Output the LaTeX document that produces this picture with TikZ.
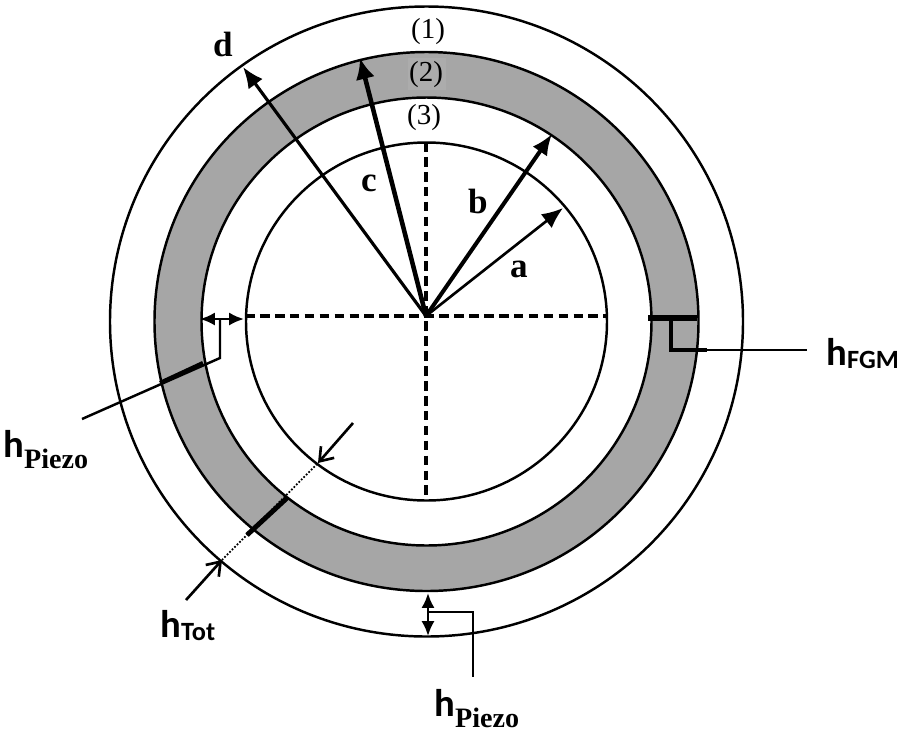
\documentclass[tikz,border=0pt]{standalone}
\usepackage{fontspec}
\setmainfont{Liberation Serif}
\setsansfont{Carlito}
\usepackage{tikz}
\usetikzlibrary{arrows.meta}
\definecolor{ringgray}{RGB}{166,166,166}
\definecolor{patchgray}{RGB}{172,172,172}
\newcommand{\hsym}{{\fontsize{22}{22}\selectfont\sffamily\bfseries h}}
\newcommand{\subsf}[1]{{\fontsize{15}{15}\selectfont\sffamily\bfseries #1}}
\newcommand{\subrm}[1]{{\fontsize{16}{16}\selectfont\rmfamily\bfseries #1}}
\newcommand{\ringline}[3]{\draw[ringln] (#1) ellipse [x radius=#2, y radius=#3];}
\tikzset{
  ringln/.style={line width=1.4pt},
  guideln/.style={dash pattern=on 5.5pt off 3pt, line width=2pt},
  radius a/.style={line width=1.5pt, -{Latex[length=12pt,width=10pt]}},
  radius b/.style={line width=2.3pt, -{Latex[length=12pt,width=10pt]}},
  radius c/.style={line width=2.6pt, -{Latex[length=12pt,width=11pt]}},
  radius d/.style={line width=1.8pt, -{Latex[length=12pt,width=10pt]}},
  gapdim/.style={line width=1.4pt, {Latex[length=8.5pt,width=7.5pt]}-{Latex[length=8.5pt,width=7.5pt]}},
  leader/.style={line width=1.4pt},
  openarr/.style={line width=1.5pt, -{Straight Barb[length=7pt,width=10pt]}},
  zonelbl/.style={font=\fontsize{16.5}{16.5}\selectfont, inner sep=0pt},
  radlbl/.style={font=\fontsize{20}{20}\selectfont\bfseries, inner sep=0pt},
  hlbl/.style={anchor=base west, inner sep=0pt}
}
\begin{document}
\begin{tikzpicture}[x=0.02cm, y=-0.02cm]
  \useasboundingbox (0,0) rectangle (900,735);
  % centres
  \coordinate (rc) at (426.5,321.5);
  \coordinate (ctr) at (426,316);
  % grey ring
  \fill[ringgray, even odd rule] (rc) ellipse [x radius=272, y radius=269.5] (rc) ellipse [x radius=225, y radius=224];
  \fill[patchgray] (408,58) rectangle (446,90);
  % circles
  \ringline{rc}{316.5}{315}
  \ringline{rc}{272}{269.5}
  \ringline{rc}{225}{224}
  \ringline{rc}{180.5}{179}
  % dashed cross
  \coordinate (gl) at (245,316);
  \coordinate (gr) at (606,316);
  \coordinate (gt) at (426,142);
  \coordinate (gb) at (426,499);
  \draw[guideln] (gl) -- (gr);
  \draw[guideln] (gt) -- (gb);
  % radii
  \coordinate (ra) at (563,208);
  \coordinate (rb) at (552,134);
  \coordinate (rcc) at (360,58);
  \coordinate (rd) at (243,67);
  \draw[radius a] (ctr) -- (ra);
  \draw[radius b] (ctr) -- (rb);
  \draw[radius c] (ctr) -- (rcc);
  \draw[radius d] (ctr) -- (rd);
  \node[radlbl] (la) at (519,269) {a};
  \node[radlbl] (lb) at (478,201) {b};
  \node[radlbl] (lc) at (369,183) {c};
  \node[radlbl] (ld) at (223,44) {d};
  % zones
  \node[zonelbl] (z1) at (428,32) {(1)};
  \node[zonelbl] (z2) at (426,75) {(2)};
  \node[zonelbl] (z3) at (424,118) {(3)};
  % left piezo
  \coordinate (p1a) at (200,319);
  \coordinate (p1b) at (244,319);
  \coordinate (p1m) at (220,319);
  \coordinate (p1k) at (220,358);
  \coordinate (p1e) at (82,419);
  \coordinate (p1s) at (160,383);
  \coordinate (p1t) at (203,363);
  \draw[gapdim] (p1a) -- (p1b);
  \draw[leader] (p1m) -- (p1k) -- (p1e);
  \draw[line width=2.4pt] (p1s) -- (p1t);
  \node[hlbl] (hp1) at (3,457) {\hsym\raisebox{-6.5pt}{\subrm{Piezo}}};
  % fgm
  \coordinate (f1) at (648,318);
  \coordinate (f2) at (697,318);
  \coordinate (f3) at (671,318);
  \coordinate (f4) at (671,350);
  \coordinate (f5) at (707,350);
  \coordinate (f6) at (807,350);
  \draw[line width=2.9pt] (f1) -- (f2);
  \draw[line width=2.4pt] (f3) -- (f4) -- (f5);
  \draw[leader] (f5) -- (f6);
  \node[hlbl] (hf) at (826,365) {\hsym\raisebox{-2pt}{\subsf{FGM}}};
  % total
  \coordinate (t1) at (353,423);
  \coordinate (t2) at (318,463);
  \coordinate (t3) at (186,600);
  \coordinate (t4) at (222,560);
  \coordinate (t5) at (247,535);
  \coordinate (t6) at (287,498);
  \draw[openarr] (t1) -- (t2);
  \draw[openarr] (t3) -- (t4);
  \draw[line width=1pt, densely dotted] (t4) -- (t2);
  \draw[line width=2.8pt] (t5) -- (t6);
  \node[hlbl] (ht) at (160,637) {\hsym\raisebox{-2pt}{\subsf{Tot}}};
  % bottom piezo
  \coordinate (p2a) at (428,593);
  \coordinate (p2b) at (428,636);
  \coordinate (p2m) at (428,612);
  \coordinate (p2k) at (473,612);
  \coordinate (p2e) at (473,677);
  \draw[gapdim] (p2a) -- (p2b);
  \draw[leader] (p2m) -- (p2k) -- (p2e);
  \node[hlbl] (hp2) at (434,716) {\hsym\raisebox{-6.5pt}{\subrm{Piezo}}};
\end{tikzpicture}
\end{document}
